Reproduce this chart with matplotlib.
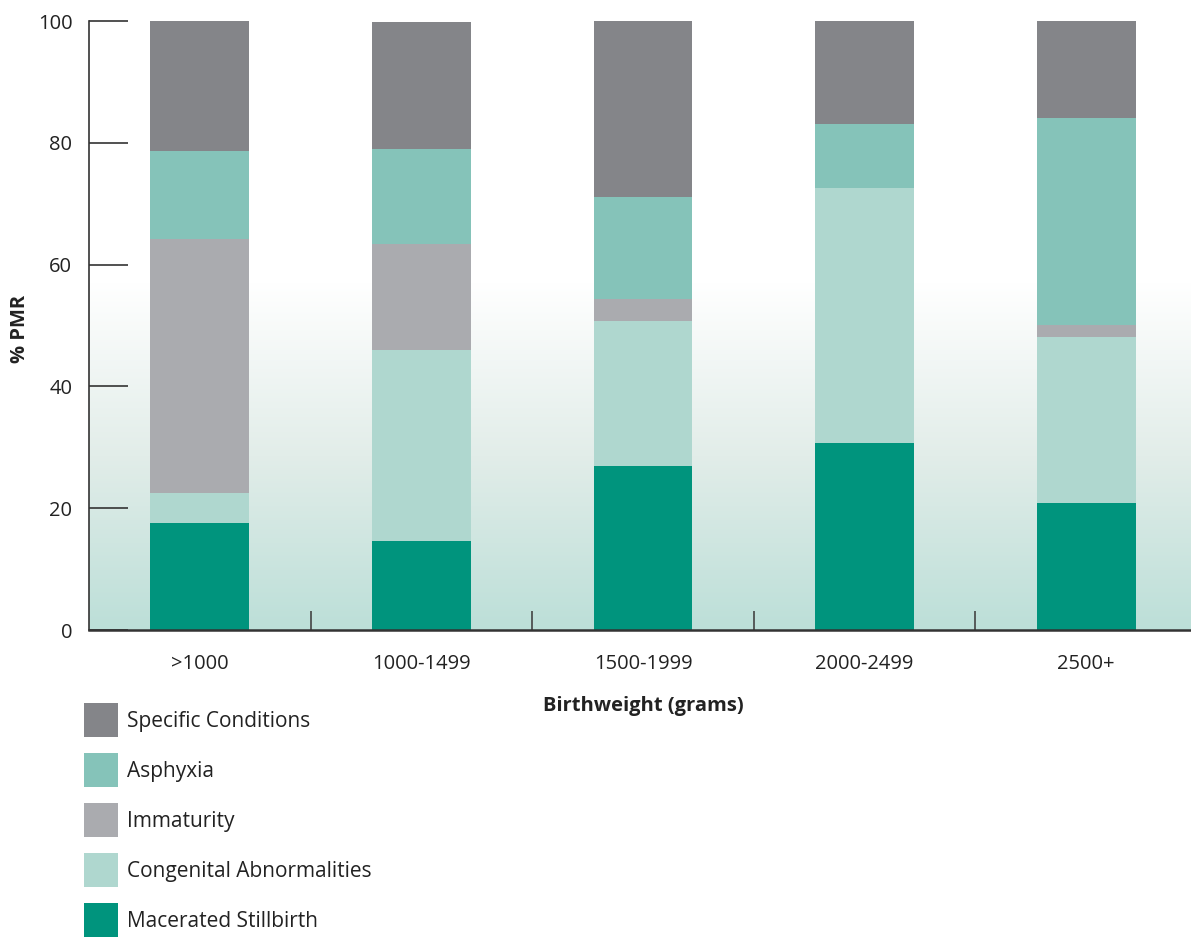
import numpy as np
import matplotlib
matplotlib.use("Agg")
import matplotlib.pyplot as plt
from matplotlib.patches import Patch
from matplotlib.colors import to_rgb

plt.rcParams['font.family'] = ['Open Sans', 'DejaVu Sans']

categories = [">1000", "1000-1499", "1500-1999", "2000-2499", "2500+"]
macerated = [17.5, 14.6, 26.9, 30.7, 20.9]
congenital = [5.0, 31.3, 23.8, 41.9, 27.2]
immaturity = [41.7, 17.5, 3.7, 0.0, 2.0]
asphyxia = [14.4, 15.6, 16.7, 10.5, 34.0]
specific = [21.4, 20.9, 28.9, 16.9, 15.9]

series_names = ["Macerated Stillbirth", "Congenital Abnormalities", "Immaturity",
                "Asphyxia", "Specific Conditions"]
series_vals = [macerated, congenital, immaturity, asphyxia, specific]
colors = ["#00947d", "#afd7cf", "#aaabaf", "#85c3b9", "#848589"]

W, H = 1191, 938
fig = plt.figure(figsize=(W / 100, H / 100), dpi=100)
ax = fig.add_axes([89 / W, (H - 630) / H, (1197 - 89) / W, (630 - 21) / H])

x = np.arange(len(categories))
ax.set_xlim(-0.5, 4.5)
ax.set_ylim(0, 100)

# gradient background
top_val = 57.0
n = 256
white = np.array([1.0, 1.0, 1.0])
teal = np.array(to_rgb("#bcdfd8"))
mid = np.array(to_rgb("#e2ede9"))
t = np.linspace(0, 1, n)[:, None]  # 0 top -> 1 bottom
grad = np.where(t < 0.5, white + (mid - white) * (t / 0.5),
                mid + (teal - mid) * ((t - 0.5) / 0.5))
img = np.repeat(grad[:, None, :], 2, axis=1)
ax.imshow(img, extent=[-0.5, 4.5, 0, top_val], aspect='auto', zorder=0,
          interpolation='bilinear')

bottom = np.zeros(len(categories))
for name, vals, c in zip(series_names, series_vals, colors):
    ax.bar(x, vals, bottom=bottom, width=0.445, color=c, label=name, zorder=2,
           linewidth=0)
    bottom += np.array(vals)

for side in ['top', 'right']:
    ax.spines[side].set_visible(False)
ax.spines['left'].set_color('#333333')
ax.spines['left'].set_linewidth(1.2)
ax.spines['bottom'].set_color('#333333')
ax.spines['bottom'].set_linewidth(1.8)
ax.spines['left'].set_zorder(3)
ax.spines['bottom'].set_zorder(3)

ax.set_yticks([0, 20, 40, 60, 80, 100])
ax.tick_params(axis='y', direction='in', length=28, width=1.2, color='#333333',
               labelsize=14.5, labelcolor='#222222', pad=12)
ax.set_xticks(x)
ax.set_xticklabels(categories)
ax.tick_params(axis='x', which='major', length=0, labelsize=14.5,
               labelcolor='#222222', pad=17)
ax.set_xticks(x[:-1] + 0.5, minor=True)
ax.tick_params(axis='x', which='minor', direction='in', length=14, width=1.2,
               color='#444444')

ax.set_ylabel("% PMR", fontsize=14.5, fontweight='bold', color='#222222')
ax.yaxis.set_label_coords(-0.053, 0.495)
ax.set_xlabel("Birthweight (grams)", fontsize=14.5, fontweight='bold',
              color='#222222', labelpad=16)

fs = 15.0
fs_px = fs * 100 / 72
hh = (34 / fs_px - 0.245) / 0.65
handles = [Patch(facecolor=c, edgecolor='none') for c in colors][::-1]
labels = series_names[::-1]
fig.legend(handles, labels, loc='upper left',
           bbox_to_anchor=(84 / W, 1 - 703 / H), frameon=False,
           fontsize=fs, handlelength=34 / fs_px, handleheight=hh,
           handletextpad=0.42, labelspacing=16 / fs_px, borderpad=0,
           borderaxespad=0, labelcolor='#222222')

fig.savefig("out.png", dpi=100)
